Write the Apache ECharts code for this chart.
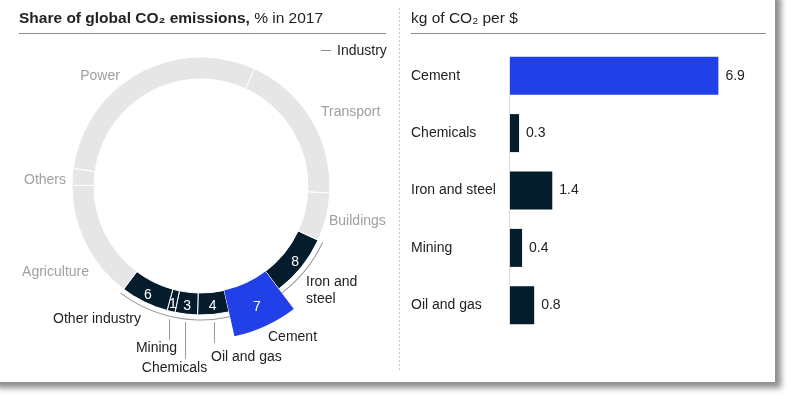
<!DOCTYPE html>
<html><head><meta charset="utf-8">
<script src="https://cdn.jsdelivr.net/npm/echarts@6/dist/echarts.min.js"></script>
<style>
html,body{margin:0;padding:0;background:#fff;overflow:hidden;}
#card{position:absolute;left:-10px;top:-10px;width:785px;height:392px;background:#fff;box-shadow:6px 6px 6px rgba(0,0,0,0.45);}
#chart{position:absolute;left:0;top:0;width:791px;height:399px;}
</style></head><body>
<div id="card"></div><div id="chart"></div>
<script>
// ---- data ----
const sectors = ['Iron and steel','Cement','Oil and gas','Chemicals','Mining','Other industry','Agriculture','Others','Power','Transport','Buildings'];
const shares  = [7.8, 6.8, 3.9, 2.8, 1.0, 6.0, 14.8, 2.1, 29.6, 19.0, 6.0];
const industrySectors = ['Iron and steel','Cement','Oil and gas','Chemicals','Mining','Other industry'];
const highlighted = 'Cement';
const barCategories = ['Cement','Chemicals','Iron and steel','Mining','Oil and gas'];
const barValues = [6.9, 0.3, 1.4, 0.4, 0.8];
const leftTitleBold = 'Share of global CO₂ emissions,';
const leftTitleRest = ' % in 2017';
const rightTitle = 'kg of CO₂ per $';
const legendLabel = 'Industry';
const leaderSectors = ['Mining','Chemicals','Oil and gas'];

// ---- styles / layout ----
const FONT = '"Liberation Sans", Arial, Helvetica, sans-serif';
const DARK = '#051c2c', BLUE = '#2140e8', GRAY = '#e6e6e6', TXT = '#222222', LBL = '#a0a0a0', RULE = '#8c8c8c';
const FS = 14, TFS = 15.5;
const CX = 201, CY = 186, R_IN = 107, R_OUT = 129, R_HI = 154, R_BR = 134;
const START = -24.8;
const labelLayout = {
  'Power':          {x: 100, y: 76,  align: 'center', color: LBL},
  'Transport':      {x: 321, y: 112, align: 'left',   color: LBL},
  'Buildings':      {x: 329, y: 221, align: 'left',   color: LBL},
  'Others':         {x: 66,  y: 180, align: 'right',  color: LBL},
  'Agriculture':    {x: 89,  y: 272, align: 'right',  color: LBL},
  'Iron and steel': {x: 306, y: 290.5, align: 'left', color: TXT, text: 'Iron and\nsteel'},
  'Cement':         {x: 268, y: 337, align: 'left',   color: TXT},
  'Other industry': {x: 141, y: 319, align: 'right',  color: TXT},
  'Mining':         {x: 156.5, y: 348, align: 'center', color: TXT, leaderEnd: 340},
  'Chemicals':      {x: 174.5, y: 368, align: 'center', color: TXT, leaderEnd: 359},
  'Oil and gas':    {x: 211, y: 357, align: 'left',   color: TXT, leaderEnd: 343}
};

const isInd = n => industrySectors.indexOf(n) >= 0;
const baseColor = n => n === highlighted ? BLUE : (isInd(n) ? DARK : GRAY);

const ringData = sectors.map((n, i) => ({
  name: n, value: shares[i],
  itemStyle: {color: baseColor(n)},
  label: {show: isInd(n) && n !== highlighted}
}));
const bracketData = sectors.map((n, i) => ({
  name: n, value: shares[i],
  itemStyle: {color: isInd(n) ? '#9a9a9a' : 'rgba(0,0,0,0)'}
}));
const hiData = sectors.map((n, i) => ({
  name: n, value: shares[i],
  itemStyle: {color: n === highlighted ? BLUE : 'rgba(0,0,0,0)'},
  label: {show: n === highlighted}
}));

const numLabel = {
  position: 'inside', rotate: 0, color: '#fff', fontSize: FS, fontFamily: FONT,
  formatter: p => String(Math.round(p.value))
};

// geometry helper for annotations derived from data
const total = shares.reduce((a, b) => a + b, 0);
function midAngle(name) {
  let cum = 0;
  for (let i = 0; i < sectors.length; i++) {
    if (sectors[i] === name) { cum += shares[i] / 2; break; }
    cum += shares[i];
  }
  return (90 - START + cum / total * 360) * Math.PI / 180; // compass, clockwise from top
}

const graphic = [];
// titles & rules
graphic.push({type: 'text', silent: true, style: {
  text: '{b|' + leftTitleBold + '}{r|' + leftTitleRest + '}', x: 19, y: 19,
  textVerticalAlign: 'middle',
  rich: {b: {fontWeight: 'bold', fontSize: TFS, fontFamily: FONT, fill: TXT},
         r: {fontSize: TFS, fontFamily: FONT, fill: TXT}}
}});
graphic.push({type: 'text', silent: true, style: {
  text: rightTitle, x: 411, y: 19, textVerticalAlign: 'middle', fill: TXT, font: TFS + 'px ' + FONT
}});
graphic.push({type: 'line', silent: true, shape: {x1: 19, y1: 33.5, x2: 386, y2: 33.5}, style: {stroke: RULE, lineWidth: 1}});
graphic.push({type: 'line', silent: true, shape: {x1: 411, y1: 33.5, x2: 766, y2: 33.5}, style: {stroke: RULE, lineWidth: 1}});
graphic.push({type: 'line', silent: true, shape: {x1: 399.5, y1: 8, x2: 399.5, y2: 371}, style: {stroke: '#c8c8c8', lineWidth: 1, lineDash: [2, 2]}});
// legend
graphic.push({type: 'line', silent: true, shape: {x1: 321, y1: 50.5, x2: 331, y2: 50.5}, style: {stroke: '#8c8c8c', lineWidth: 1}});
graphic.push({type: 'text', silent: true, style: {text: legendLabel, x: 337, y: 51, textVerticalAlign: 'middle', fill: TXT, font: FS + 'px ' + FONT}});
// sector labels
sectors.forEach(n => {
  const L = labelLayout[n];
  graphic.push({type: 'text', silent: true, style: {
    text: L.text || n, x: L.x, y: L.y, textAlign: L.align, textVerticalAlign: 'middle',
    fill: L.color, font: FS + 'px ' + FONT, lineHeight: 17
  }});
});
// leader lines
leaderSectors.forEach(n => {
  const a = midAngle(n);
  const x = Math.round(CX + (R_BR + 3) * Math.sin(a)) + 0.5;
  const y1 = CY - (R_BR + 3) * Math.cos(a);
  graphic.push({type: 'line', silent: true, shape: {x1: x, y1: y1, x2: x, y2: labelLayout[n].leaderEnd},
    style: {stroke: '#9a9a9a', lineWidth: 1}});
});

const chart = echarts.init(document.getElementById('chart'), null, {renderer: 'canvas'});
const option = {
  animation: false,
  backgroundColor: 'transparent',
  textStyle: {fontFamily: FONT},
  grid: {left: 510, top: 47, width: 241.6, height: 287, outerBoundsMode: 'none', containLabel: false},
  xAxis: {type: 'value', min: 0, max: 8, show: false},
  yAxis: {type: 'category', data: barCategories, inverse: true,
    axisLine: {show: false}, axisTick: {show: false}, splitLine: {show: false},
    axisLabel: {align: 'left', margin: 99, color: TXT, fontSize: FS, fontFamily: FONT}},
  series: [
    {type: 'pie', silent: true, center: [CX, CY], radius: [R_IN, R_OUT], startAngle: START, clockwise: true,
     itemStyle: {borderColor: '#fff', borderWidth: 1}, label: numLabel, labelLine: {show: false},
     emphasis: {disabled: true}, data: ringData},
    {type: 'pie', silent: true, center: [CX, CY], radius: [R_BR - 0.5, R_BR + 0.5], startAngle: START, clockwise: true,
     itemStyle: {borderWidth: 0}, label: {show: false}, labelLine: {show: false},
     emphasis: {disabled: true}, data: bracketData},
    {type: 'pie', silent: true, center: [CX, CY], radius: [R_IN, R_HI], startAngle: START, clockwise: true,
     itemStyle: {borderWidth: 0}, label: numLabel, labelLine: {show: false},
     emphasis: {disabled: true}, data: hiData},
    {type: 'bar', silent: true, barWidth: 38,
     data: barValues.map((v, i) => ({value: v, itemStyle: {color: barCategories[i] === highlighted ? BLUE : DARK}})),
     label: {show: true, position: 'right', distance: 7, color: TXT, fontSize: FS, fontFamily: FONT},
     emphasis: {disabled: true}}
  ],
  graphic: graphic
};
chart.setOption(option);
// vertical axis line spanning the bars
const yTop = chart.convertToPixel({yAxisIndex: 0}, barCategories[0]) - 19;
const yBot = chart.convertToPixel({yAxisIndex: 0}, barCategories[barCategories.length - 1]) + 19;
const x0 = Math.round(chart.convertToPixel({xAxisIndex: 0}, 0)) - 0.5;
graphic.push({type: 'line', silent: true, z: -1, shape: {x1: x0, y1: yTop, x2: x0, y2: yBot}, style: {stroke: '#dddddd', lineWidth: 1}});
chart.setOption({graphic: graphic});
</script>
</body></html>
